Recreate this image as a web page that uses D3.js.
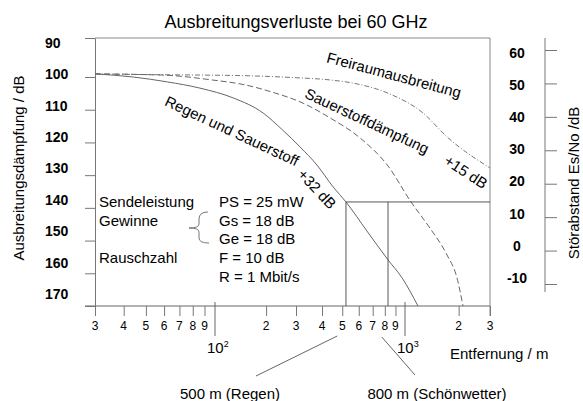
<!DOCTYPE html>
<html>
<head>
<meta charset="utf-8">
<script src="https://cdn.jsdelivr.net/npm/d3@7"></script>
<style>
body { margin: 0; background: #fff; }
svg { font-family: "Liberation Sans", Arial, sans-serif; }
.ax line, .ax path { stroke: #777; }
</style>
</head>
<body>
<svg id="chart" width="583" height="401"></svg>
<script>
// distance in m, attenuation in dB
const freiraumDist = [30, 52, 86, 161, 296, 437, 588, 847, 1262, 1721, 3000];
const freiraumLoss = [99.2, 99.4, 99.5, 99.7, 100.2, 100.9, 102.1, 105.2, 111.0, 118.3, 127.8];
const sauerstoffDist = [30, 59, 97, 150, 226, 314, 437, 608, 829, 1081, 1381, 1721, 1958, 2116];
const sauerstoffLoss = [99.2, 99.5, 100.9, 102.4, 104.9, 107.6, 112.5, 118.6, 127.2, 138.2, 146.2, 154.4, 161.4, 170];
const regenDist = [30, 44, 62, 86, 128, 192, 250, 314, 378, 452, 521, 657, 829, 968, 1183];
const regenLoss = [99.2, 100, 101.5, 103.4, 106.4, 111.0, 116.2, 121.4, 126.9, 133.6, 138.2, 147.1, 155.9, 161.4, 170];

const lossTicks = [90, 100, 110, 120, 130, 140, 150, 160, 170];
const snrTicks = [-10, 0, 10, 20, 30, 40, 50, 60];
const distTicks = [30, 40, 50, 60, 70, 80, 90, 100, 200, 300, 400, 500, 600, 700, 800, 900, 1000, 2000, 3000];
const decadeTicks = [100, 1000];

const limitLoss = 138.2;
const limitDist = [521, 829];

const paramNames = ["Sendeleistung", "Gewinne", "Rauschzahl"];
const paramValues = ["PS = 25 mW", "Gs = 18 dB", "Ge = 18 dB", "F = 10 dB", "R = 1 Mbit/s"];

const svg = d3.select("#chart");
const plotL = 95, plotR = 490, plotT = 38, plotB = 306;

const x = d3.scaleLog().domain([30, 100, 300, 1000, 3000]).range([plotL, 215, 296, 405, plotR]);
const y = d3.scaleLinear().domain([90, 100, 170]).range([plotT, 77, plotB]);
const yLab = d3.scaleLinear().domain([90, 170]).range([43, 294]);
const ySnr = d3.scaleLinear().domain([-10, 60]).range([284, 50]);
const ySnrLab = d3.scaleLinear().domain([-10, 60]).range([278, 53]);

// title
svg.append("text").attr("x", 296).attr("y", 28).attr("text-anchor", "middle")
    .attr("font-size", 18).text("Ausbreitungsverluste bei 60 GHz");

// frame
svg.append("line").attr("x1", plotL).attr("x2", plotR).attr("y1", plotT).attr("y2", plotT).attr("stroke", "#888");
svg.append("line").attr("x1", plotR).attr("x2", plotR).attr("y1", plotT).attr("y2", plotB + 10).attr("stroke", "#888");
svg.append("line").attr("x1", plotL - 10).attr("x2", plotR).attr("y1", plotB).attr("y2", plotB).attr("stroke", "#666");

// left axis
const yAxis = svg.append("g").attr("class", "ax").attr("transform", `translate(${plotL},0)`)
    .call(d3.axisLeft(y).tickValues(lossTicks).tickSize(10).tickSizeOuter(0).tickFormat(""));
yAxis.selectAll("line, path").attr("stroke", "#666");
svg.append("g").selectAll("text").data(lossTicks).join("text")
    .attr("x", 45).attr("y", d => yLab(d)).attr("dy", "0.35em")
    .attr("font-size", 14).attr("font-weight", "bold").text(d => d);
svg.append("text").attr("transform", "translate(19,168) rotate(-90)")
    .attr("text-anchor", "middle").attr("dy", "0.35em").attr("font-size", 15)
    .text("Ausbreitungsdämpfung / dB");

// bottom axis
const xAxis = svg.append("g").attr("class", "ax").attr("transform", `translate(0,${plotB})`)
    .call(d3.axisBottom(x).tickValues(distTicks.filter(d => !decadeTicks.includes(d)))
        .tickSize(10).tickSizeOuter(0).tickFormat(""));
xAxis.select(".domain").remove();
svg.append("g").selectAll("line").data(decadeTicks).join("line")
    .attr("x1", d => x(d)).attr("x2", d => x(d)).attr("y1", plotB - 4).attr("y2", plotB + 30)
    .attr("stroke", "#666");
svg.append("g").selectAll("text").data(distTicks.filter(d => !decadeTicks.includes(d))).join("text")
    .attr("x", d => x(d)).attr("y", 330).attr("text-anchor", "middle").attr("font-size", 12)
    .text(d => Math.round(d / Math.pow(10, Math.floor(Math.log10(d)))));
const dec = svg.append("g").selectAll("text").data(decadeTicks).join("text")
    .attr("x", d => x(d) - 8).attr("y", 353).attr("font-size", 15);
dec.append("tspan").text("10");
dec.append("tspan").attr("font-size", 9).attr("dy", -6).text(d => Math.round(Math.log10(d)));
svg.append("text").attr("x", 450).attr("y", 359).attr("font-size", 15).text("Entfernung / m");

// right axis (Störabstand)
svg.append("line").attr("x1", 545).attr("x2", 545).attr("y1", plotT).attr("y2", 292).attr("stroke", "#777");
const rAxis = svg.append("g").attr("class", "ax").attr("transform", "translate(545,0)")
    .call(d3.axisRight(ySnr).tickValues(snrTicks).tickSize(12).tickSizeOuter(0).tickFormat(""));
rAxis.select(".domain").remove();
svg.append("g").selectAll("text").data(snrTicks).join("text")
    .attr("x", 517).attr("y", d => ySnrLab(d)).attr("dy", "0.35em").attr("text-anchor", "middle")
    .attr("font-size", 14).attr("font-weight", "bold").text(d => d);
svg.append("text").attr("transform", "translate(574,183) rotate(-90)")
    .attr("text-anchor", "middle").attr("dy", "0.35em").attr("font-size", 15)
    .text("Störabstand Es/No /dB");

// curves
const line = d3.line().x(d => x(d[0])).y(d => y(d[1])).curve(d3.curveMonotoneX);
svg.append("path").datum(d3.zip(freiraumDist, freiraumLoss)).attr("d", line)
    .attr("fill", "none").attr("stroke", "#777").attr("stroke-dasharray", "5,2,1,2");
svg.append("path").datum(d3.zip(sauerstoffDist, sauerstoffLoss)).attr("d", line)
    .attr("fill", "none").attr("stroke", "#666").attr("stroke-dasharray", "6,3");
svg.append("path").datum(d3.zip(regenDist, regenLoss)).attr("d", line)
    .attr("fill", "none").attr("stroke", "#666");

// limit lines
svg.append("line").attr("x1", x(limitDist[0])).attr("x2", plotR)
    .attr("y1", y(limitLoss)).attr("y2", y(limitLoss)).attr("stroke", "#555");
svg.append("g").selectAll("line").data(limitDist).join("line")
    .attr("x1", d => x(d)).attr("x2", d => x(d)).attr("y1", y(limitLoss)).attr("y2", plotB)
    .attr("stroke", "#555");

// curve labels
const curveLabels = [
    { text: "Freiraumausbreitung", cx: 394, cy: 75, rot: 15 },
    { text: "Sauerstoffdämpfung", cx: 367, cy: 121, rot: 25 },
    { text: "+15 dB", cx: 466, cy: 172, rot: 33 },
    { text: "Regen und Sauerstoff", cx: 232, cy: 131, rot: 25 },
    { text: "+32 dB", cx: 317, cy: 189, rot: 47 }
];
svg.append("g").selectAll("text").data(curveLabels).join("text")
    .attr("transform", d => `translate(${d.cx},${d.cy}) rotate(${d.rot})`)
    .attr("text-anchor", "middle").attr("dy", "0.35em").attr("font-size", 15)
    .text(d => d.text);

// parameters
svg.append("g").selectAll("text").data(paramNames).join("text")
    .attr("x", 99).attr("y", (d, i) => [207, 226, 263][i]).attr("font-size", 15).text(d => d);
svg.append("g").selectAll("text").data(paramValues).join("text")
    .attr("x", 219).attr("y", (d, i) => 207 + i * 18.7).attr("font-size", 15).text(d => d);
svg.append("path")
    .attr("d", "M208,212 Q199,212 199,219 L199,224 Q199,228 189,228 Q199,228 199,232 L199,238 Q199,243 209,243")
    .attr("fill", "none").attr("stroke", "#777");

// distance annotations
svg.append("line").attr("x1", 256).attr("y1", 376).attr("x2", x(500) - 5).attr("y2", 336).attr("stroke", "#666");
svg.append("line").attr("x1", x(800) - 3).attr("y1", 337).attr("x2", 415).attr("y2", 375).attr("stroke", "#666");
svg.append("text").attr("x", 230).attr("y", 399).attr("text-anchor", "middle").attr("font-size", 15).text("500 m (Regen)");
svg.append("text").attr("x", 437).attr("y", 399).attr("text-anchor", "middle").attr("font-size", 15).text("800 m (Schönwetter)");
</script>
</body>
</html>
